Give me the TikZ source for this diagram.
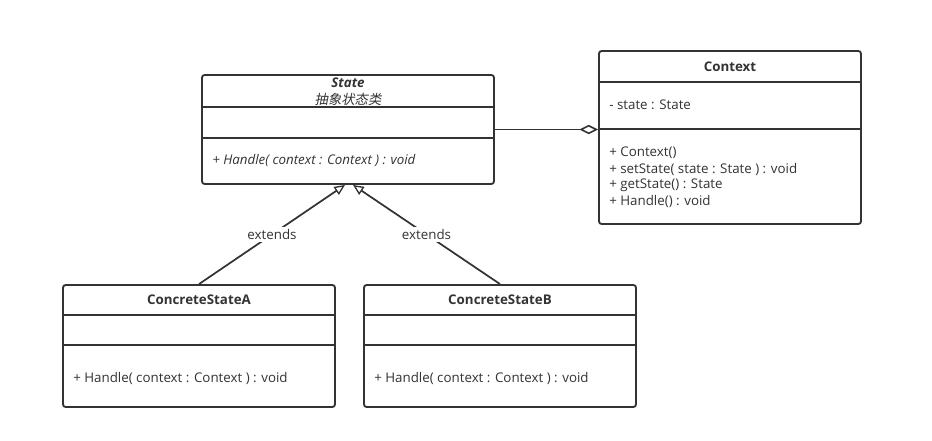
\documentclass[tikz,border=0pt]{standalone}
\usepackage{fontspec}
\setmainfont{Open Sans}
\newfontfamily\cjk{Noto Sans CJK SC}[FakeSlant=0.2]
\usetikzlibrary{arrows.meta,calc}
\definecolor{ink}{HTML}{333333}
\tikzset{
  classbox/.style={draw=ink,line width=1.4pt,rounded corners=2pt,fill=white},
  classline/.style={draw=ink,line width=1.4pt},
  title/.style={font=\fontsize{10}{12}\selectfont\bfseries,text=ink,inner sep=0pt},
  member/.style={font=\fontsize{10}{12}\selectfont,text=ink,anchor=west,inner sep=0pt},
  link/.style={draw=ink,line width=1.3pt},
  extendsarrow/.style={link,-{Triangle[open,length=8pt,width=7pt,line width=1pt]}},
  aggregation/.style={link,-{Diamond[open,length=14pt,width=7pt,line width=1.2pt]}},
  linklabel/.style={font=\fontsize{10}{12}\selectfont,text=ink,fill=white,inner sep=2pt}
}
\newcommand{\classrule}[2]{%
  \draw[classline] (#1.west |- 0,#2) -- (#1.east |- 0,#2);
}
\begin{document}
\begin{tikzpicture}[x=0.75pt,y=-0.75pt]
  \useasboundingbox (0,0) rectangle (932,440);
  % classes
  \node[classbox,minimum width=219pt,minimum height=81.75pt] (state) at (348,129.5) {};
  \node[classbox,minimum width=196.5pt,minimum height=129.75pt] (context) at (730,137.5) {};
  \node[classbox,minimum width=204pt,minimum height=91.5pt] (csA) at (199,346) {};
  \node[classbox,minimum width=204pt,minimum height=91.5pt] (csB) at (500,346) {};
  \classrule{state}{107}
  \classrule{state}{138}
  \classrule{context}{82}
  \classrule{context}{129}
  \classrule{csA}{315}
  \classrule{csA}{345}
  \classrule{csB}{315}
  \classrule{csB}{345}
  % texts
  \node[title,font=\fontsize{10}{12}\selectfont\bfseries\itshape] (statename) at (348,83) {State};
  \node[title,font=\fontsize{10}{12}\selectfont\cjk] (statenote) at (348,99) {抽象状态类};
  \node[member,font=\fontsize{10}{12}\selectfont\itshape] (stateop) at (212,160) {+ Handle( context : Context ) : void};
  \node[title] (contextname) at (730,67) {Context};
  \node[member] (contextattr) at (609,105) {- state : State};
  \node[member] (contextop1) at (609,153) {+ Context()};
  \node[member] (contextop2) at (609,169) {+ setState( state : State ) : void};
  \node[member] (contextop3) at (609,185) {+ getState() : State};
  \node[member] (contextop4) at (609,201) {+ Handle() : void};
  \node[title] (csAname) at (199,300) {ConcreteStateA};
  \node[member] (csAop) at (73,378) {+ Handle( context : Context ) : void};
  \node[title] (csBname) at (500,300) {ConcreteStateB};
  \node[member] (csBop) at (374,378) {+ Handle( context : Context ) : void};
  % relations
  \draw[aggregation] (state.east) -- (state.east -| context.west);
  \draw[extendsarrow] (csA.north) -- node[linklabel] {extends} ($(state.south)+(-3,0)$);
  \draw[extendsarrow] (csB.north) -- node[linklabel] {extends} ($(state.south)+(5,0)$);
\end{tikzpicture}
\end{document}
